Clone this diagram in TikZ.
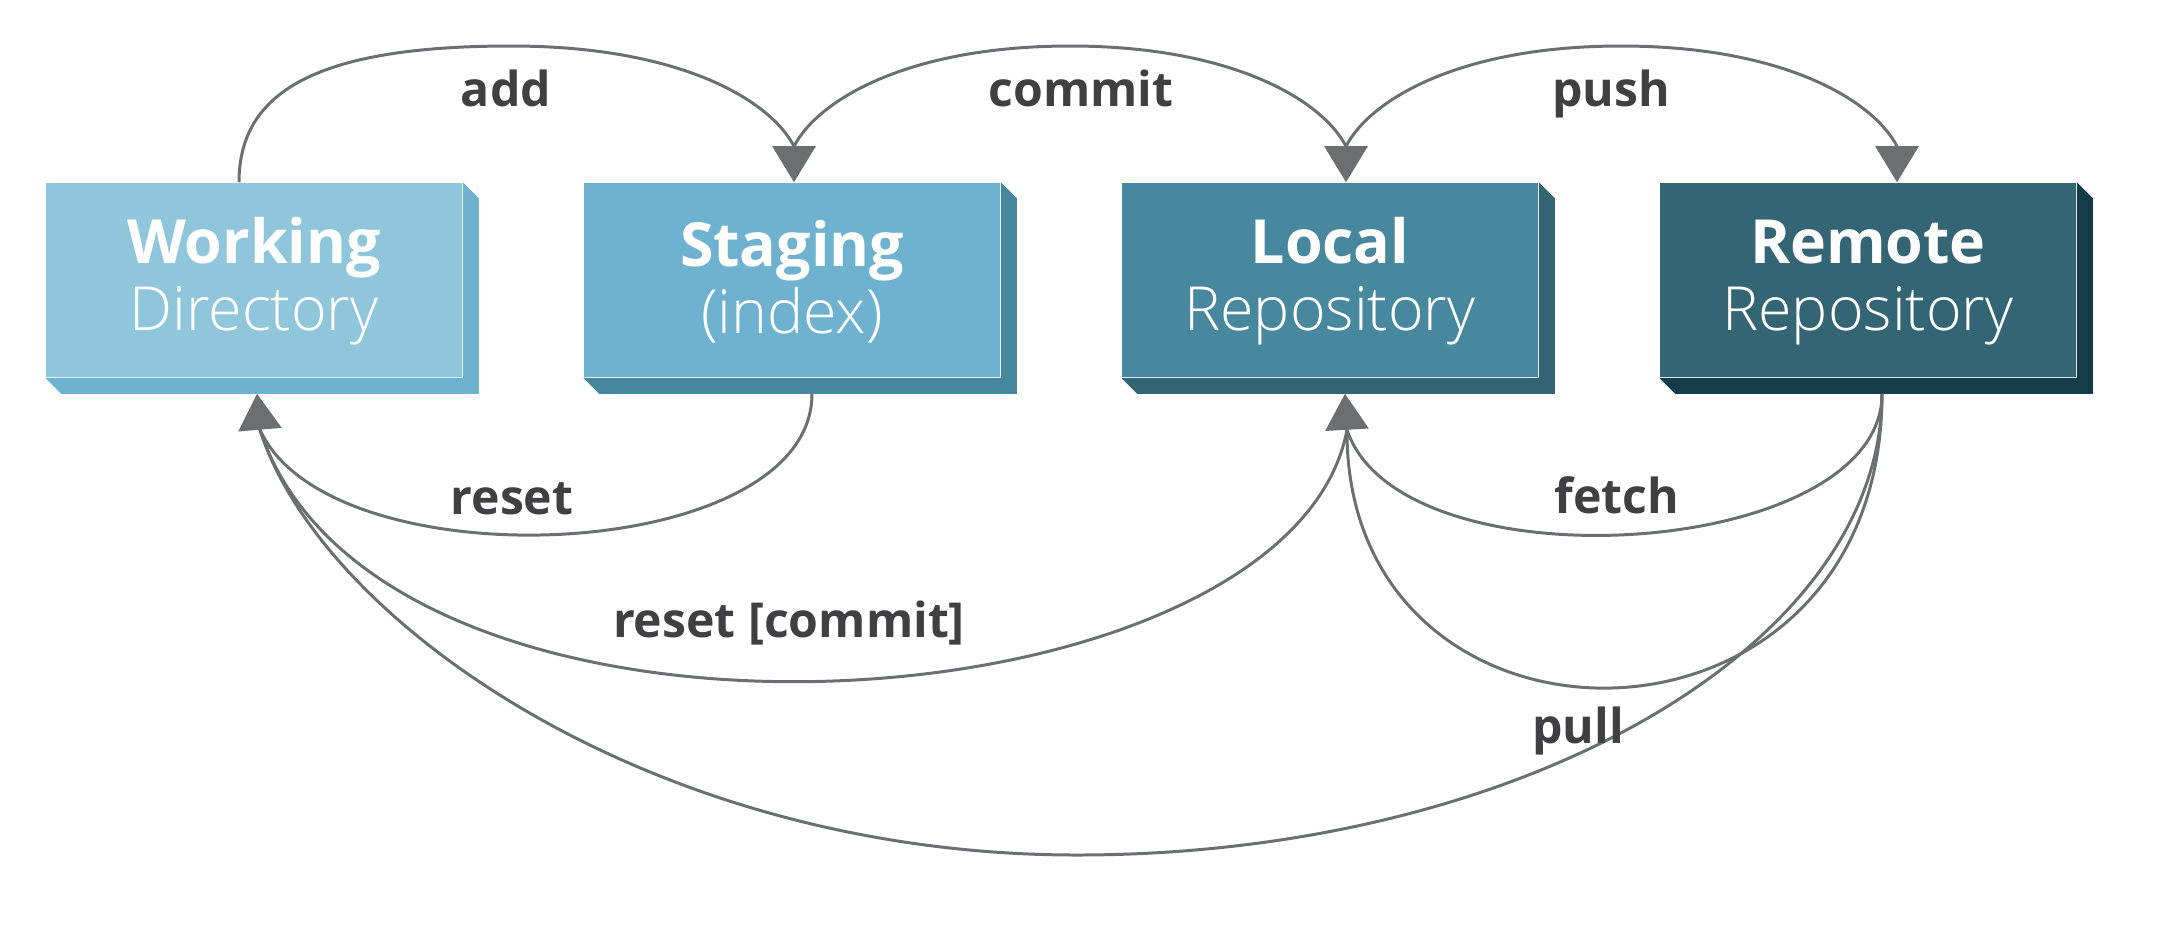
\documentclass[tikz,border=0pt]{standalone}
\usepackage{fontspec}
\setmainfont{Open Sans}
\newfontfamily\lightfont{Open Sans Light}
\usetikzlibrary{arrows.meta}
\definecolor{wdfront}{RGB}{143,198,219}
\definecolor{wdside}{RGB}{111,178,207}
\definecolor{stfront}{RGB}{111,178,207}
\definecolor{stside}{RGB}{72,136,159}
\definecolor{lrfront}{RGB}{72,136,159}
\definecolor{lrside}{RGB}{51,101,117}
\definecolor{rrfront}{RGB}{51,101,117}
\definecolor{rrside}{RGB}{20,60,74}
\definecolor{flowgray}{RGB}{109,110,112}
\definecolor{labelgray}{RGB}{64,64,66}
\tikzset{
    area/.style={
        minimum width=4.16cm, minimum height=1.94cm, inner sep=0pt,
        text=white, align=center,
        font=\fontsize{17.3pt}{19pt}\selectfont
    },
    flow/.style={draw=flowgray, line width=0.85pt},
    head/.style={flow, -{Triangle[length=3.6mm,width=4.3mm]}},
    cmd/.style={anchor=base, text=labelgray, font=\fontsize{13.7pt}{16pt}\selectfont\bfseries}
}

\begin{document}
\begin{tikzpicture}[x=0.01cm, y=-0.01cm]
\useasboundingbox (0,0) rectangle (2165,938);
% the four areas
\node[area, fill=wdfront] (wd) at (254,280) {\rule{0pt}{14pt}\textbf{Working}\\{\lightfont Directory}};
\node[area, fill=stfront] (st) at (792,280) {\rule{0pt}{14pt}\textbf{Staging}\\{\lightfont (index)}};
\node[area, fill=lrfront] (lr) at (1330,280) {\rule{0pt}{14pt}\textbf{Local}\\{\lightfont Repository}};
\node[area, fill=rrfront] (rr) at (1868,280) {\rule{0pt}{14pt}\textbf{Remote}\\{\lightfont Repository}};
% depth of the blocks
\fill[wdside] (wd.north east) -- ([shift={(16,16)}]wd.north east) -- ([shift={(16,16)}]wd.south east) -- ([shift={(16,16)}]wd.south west) -- (wd.south west) -- (wd.south east) -- cycle;
\fill[stside] (st.north east) -- ([shift={(16,16)}]st.north east) -- ([shift={(16,16)}]st.south east) -- ([shift={(16,16)}]st.south west) -- (st.south west) -- (st.south east) -- cycle;
\fill[lrside] (lr.north east) -- ([shift={(16,16)}]lr.north east) -- ([shift={(16,16)}]lr.south east) -- ([shift={(16,16)}]lr.south west) -- (lr.south west) -- (lr.south east) -- cycle;
\fill[rrside] (rr.north east) -- ([shift={(16,16)}]rr.north east) -- ([shift={(16,16)}]rr.south east) -- ([shift={(16,16)}]rr.south west) -- (rr.south west) -- (rr.south east) -- cycle;
% where the arrows meet the blocks
\coordinate (wd-top) at ([shift={(-15,0)}]wd.north);
\coordinate (wd-tip) at ([shift={(3,16)}]wd.south);
\coordinate (wd-in) at ([shift={(6,52)}]wd.south);
\coordinate (st-tip) at ([shift={(2,0)}]st.north);
\coordinate (st-base) at ([shift={(2,-36)}]st.north);
\coordinate (st-bot) at ([shift={(20,16)}]st.south);
\coordinate (lr-tip) at ([shift={(16,0)}]lr.north);
\coordinate (lr-base) at ([shift={(16,-36)}]lr.north);
\coordinate (lr-low) at ([shift={(15,16)}]lr.south);
\coordinate (lr-in) at ([shift={(17,52)}]lr.south);
\coordinate (rr-tip) at ([shift={(29,0)}]rr.north);
\coordinate (rr-base) at ([shift={(29,-36)}]rr.north);
\coordinate (rr-bot) at ([shift={(14,16)}]rr.south);
% upper flows
\draw[flow] (wd-top) .. controls (239,90) and (320,46) .. (511,46) .. controls (680,46) and (770,100) .. (st-base);
\draw[head] (st-base) -- (st-tip);
\draw[flow] (st-base) .. controls (818,100) and (908,46) .. (1070,46) .. controls (1232,46) and (1322,100) .. (lr-base);
\draw[head] (lr-base) -- (lr-tip);
\draw[flow] (lr-base) .. controls (1370,100) and (1459,46) .. (1621,46) .. controls (1783,46) and (1873,100) .. (rr-base);
\draw[head] (rr-base) -- (rr-tip);
% lower flows
\draw[flow] (st-bot) .. controls (812,565) and (330,585) .. (wd-in);
\draw[flow] (lr-in) .. controls (1290,735) and (380,795) .. (wd-in);
\draw[flow] (rr-bot) .. controls (1882,647) and (1520,855) .. (1077,855) .. controls (650,855) and (320,620) .. (wd-in);
\draw[flow] (rr-bot) .. controls (1882,560) and (1400,590) .. (lr-in);
\draw[flow] (rr-bot) .. controls (1882,780) and (1345,780) .. (lr-in);
\draw[head] (wd-in) -- (wd-tip);
\draw[head] (lr-in) -- (lr-low);
% commands
\node[cmd] (l-add) at (506,106) {add};
\node[cmd] (l-commit) at (1081,106) {commit};
\node[cmd] (l-push) at (1611,106) {push};
\node[cmd] (l-reset) at (512,514) {reset};
\node[cmd] (l-rcommit) at (789,637) {reset [commit]};
\node[cmd] (l-fetch) at (1617,513) {fetch};
\node[cmd] (l-pull) at (1578,743) {pull};
\end{tikzpicture}
\end{document}
